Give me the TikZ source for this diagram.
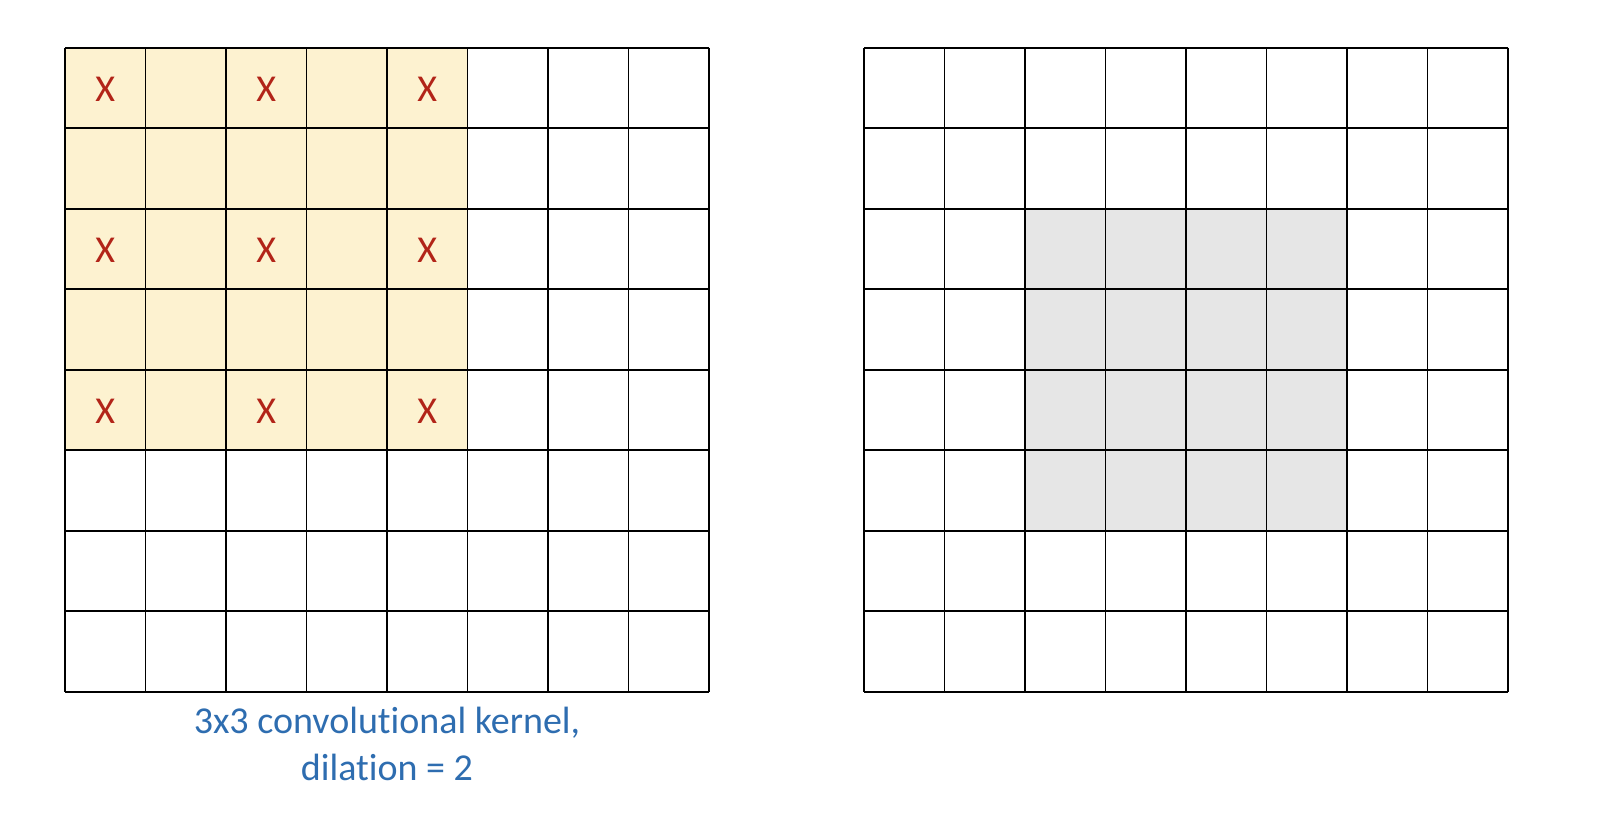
\documentclass[tikz,border=0pt]{standalone}
\usepackage{fontspec}
\setmainfont{Carlito}[Ligatures=CommonOff]
\usepackage{tikz}

\definecolor{kernelfill}{HTML}{FDF2D0}
\definecolor{hitred}{HTML}{B22418}
\definecolor{capblue}{HTML}{2E6DB0}
\definecolor{outgrey}{HTML}{E6E6E6}

\tikzset{
  gridline/.style={line width=1.6pt, black},
  xmark/.style={text=hitred, font=\fontsize{38}{44}\selectfont, inner sep=0pt},
  caption/.style={text=capblue, font=\fontsize{38}{47}\selectfont, align=center, inner sep=0pt}
}

\begin{document}
\begin{tikzpicture}[x=1pt,y=-1pt]
      \useasboundingbox (0,0) rectangle (1624,812);

      % the receptive field of the kernel
      \fill [kernelfill] (65,47.7) rectangle +(402.5,402.5);

      % the output region
      \fill [outgrey] (1025,208.7) rectangle +(322,322);

      % input grid
      \foreach \i in {0,...,8} {
        \draw [gridline] (65+\i*80.5,47.7) -- (65+\i*80.5,691.7);
        \draw [gridline] (65,47.7+\i*80.5) -- (709,47.7+\i*80.5);
      }

      % output grid
      \foreach \i in {0,...,8} {
        \draw [gridline] (864+\i*80.5,47.7) -- (864+\i*80.5,691.7);
        \draw [gridline] (864,47.7+\i*80.5) -- (1508,47.7+\i*80.5);
      }

      % the kernel taps
      \foreach \r in {0,2,4}
        \foreach \c in {0,2,4}
          \node [xmark] (x\r\c) at (105.25+\c*80.5, 89+\r*80.5) {X};

      % caption
      \node [caption, anchor=base] (kernelcap) at (387,780)
        {3x3 convolutional kernel,\\dilation = 2};
\end{tikzpicture}
\end{document}
